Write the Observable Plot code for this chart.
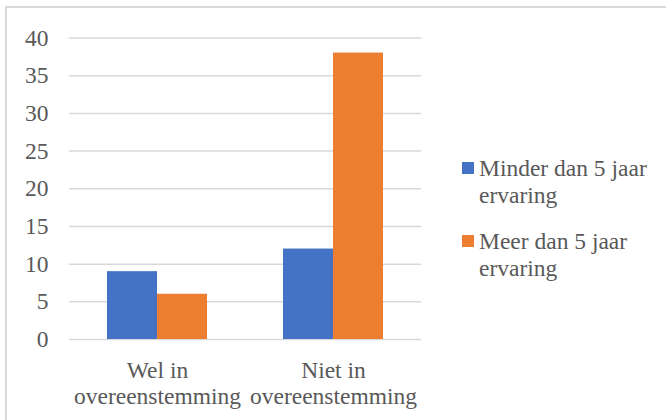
<!DOCTYPE html>
<html>
<head>
<meta charset="utf-8">
<script src="https://cdn.jsdelivr.net/npm/d3@7"></script>
<script src="https://cdn.jsdelivr.net/npm/@observablehq/plot@0.6"></script>
<style>
  html, body { margin: 0; padding: 0; background: #fff; }
  body { width: 666px; height: 420px; position: relative; overflow: hidden;
         font-family: "Liberation Serif", "Tinos", "DejaVu Serif", "Noto Serif", serif; color: #595959; }
  #chart { position: absolute; left: 0; top: 0; }
  #border { position: absolute; left: 5px; top: 6px; width: 720px; height: 480px;
            border: 2px solid #d9d9d9; box-sizing: border-box; pointer-events: none; }
  .entry { position: absolute; left: 462px; }
  .swatch { position: absolute; left: 0; top: 7.7px; width: 12px; height: 12px; }
  .label { position: absolute; left: 17px; top: 0; width: 186px;
           font-size: 23.5px; line-height: 27px; }
  #chart svg text { font-family: "Liberation Serif", "Tinos", "DejaVu Serif", "Noto Serif", serif; }
</style>
</head>
<body>
<div id="chart"></div>
<div id="legend"></div>
<div id="border"></div>
<script>
const categories = ["Wel in overeenstemming", "Niet in overeenstemming"];
const series = ["Minder dan 5 jaar ervaring", "Meer dan 5 jaar ervaring"];
const minderDan5 = [9, 12];
const meerDan5 = [6, 38];
const colors = ["#4472C4", "#ED7D31"];
const yTicks = [0, 5, 10, 15, 20, 25, 30, 35, 40];

const rows = categories.flatMap((c, i) => [
  {category: c, series: series[0], value: minderDan5[i]},
  {category: c, series: series[1], value: meerDan5[i]}
]);

const chart = Plot.plot({
  width: 666,
  height: 420,
  marginLeft: 69,
  marginRight: 245,
  marginTop: 37.5,
  marginBottom: 81,
  style: {fontSize: "23.5px", color: "#595959", background: "transparent"},
  fx: {domain: categories, padding: 0, label: null},
  x: {domain: series, paddingInner: 0, paddingOuter: 0.76, axis: null},
  y: {domain: [0, 40], label: null},
  color: {domain: series, range: colors},
  marks: [
    Plot.gridY(yTicks, {stroke: "#d9d9d9", strokeOpacity: 1, strokeWidth: 1.5}),
    Plot.barY(rows, {fx: "category", x: "series", y: "value", fill: "series"}),
    Plot.axisY(yTicks, {tickSize: 0, tickPadding: 21, fontSize: 23.5}),
    Plot.axisFx({anchor: "bottom", tickSize: 0, tickPadding: 20, lineHeight: 1.1, fontSize: 23.5,
                 label: null, tickFormat: d => d.replace(" in ", " in\n")})
  ]
});
document.getElementById("chart").append(chart);

// legend entries to the right of the plot
const legend = document.getElementById("legend");
series.forEach((s, i) => {
  const entry = document.createElement("div");
  entry.className = "entry";
  entry.style.top = (154.6 + i * 73) + "px";
  const sw = document.createElement("div");
  sw.className = "swatch";
  sw.style.background = colors[i];
  const lab = document.createElement("div");
  lab.className = "label";
  lab.textContent = s;
  entry.append(sw, lab);
  legend.append(entry);
});
</script>
</body>
</html>
